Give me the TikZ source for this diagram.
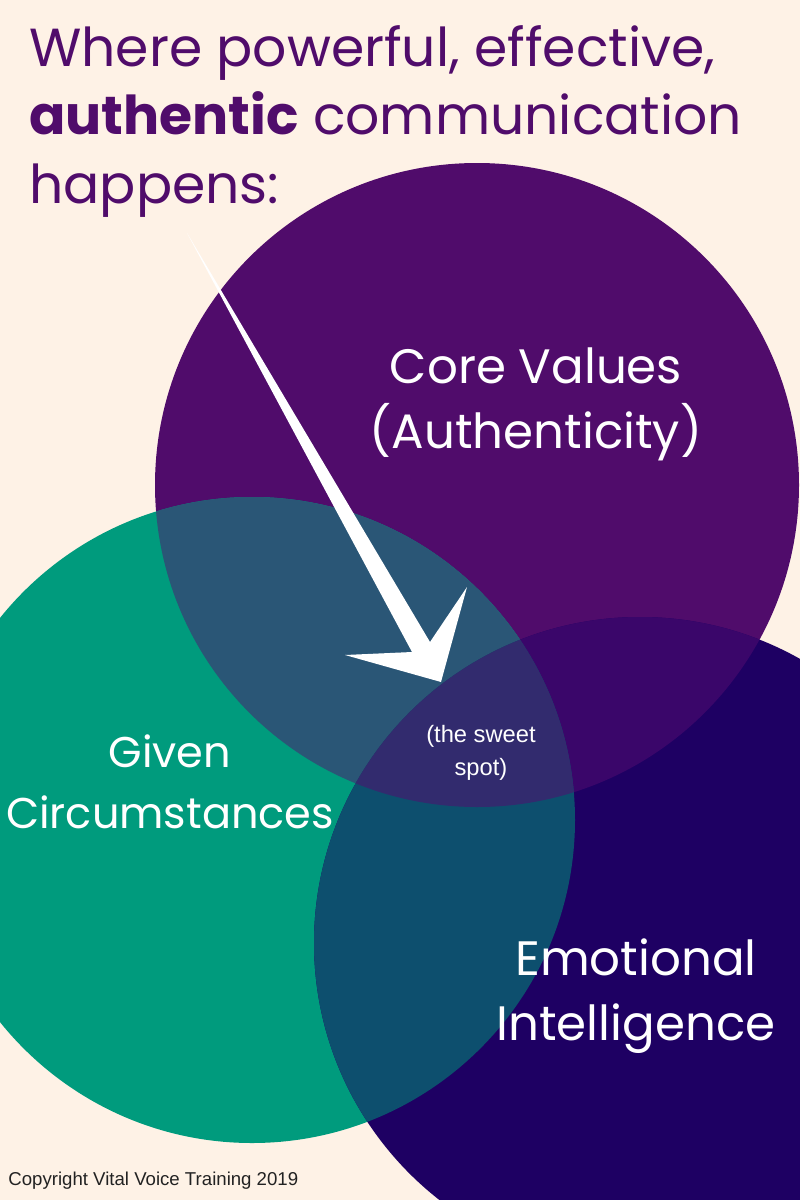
\documentclass[tikz,border=0pt]{standalone}
\usepackage{fontspec}
\setmainfont{Poppins}
\newfontfamily\arialfont{Liberation Sans}
\usetikzlibrary{positioning}
\definecolor{paper}{RGB}{254,242,230}
\definecolor{core}{RGB}{80,12,107}
\definecolor{given}{RGB}{0,155,125}
\definecolor{emo}{RGB}{30,0,99}
\definecolor{coregiven}{RGB}{42,86,118}
\definecolor{coreemo}{RGB}{58,6,106}
\definecolor{givenemo}{RGB}{13,79,110}
\definecolor{sweet}{RGB}{50,43,110}
\definecolor{note}{RGB}{34,34,34}

\begin{document}
\begin{tikzpicture}[x=0.02cm, y=-0.02cm,
  heading/.style={anchor=north west, inner sep=0pt, align=left, text=core,
              font=\fontsize{30.5}{39}\selectfont},
  circtext/.style={inner sep=0pt, align=center, text=white,
              font=\fontsize{27.5}{37}\selectfont},
  smalltext/.style={inner sep=0pt, align=center, text=white,
              font=\arialfont\fontsize{13.5}{19}\selectfont}]
\useasboundingbox (0,0) rectangle (800,1200);
\clip (0,0) rectangle (800,1200);
\fill[paper] (0,0) rectangle (800,1200);
\coordinate (corec)  at (477,485);
\coordinate (givenc) at (252,820);
\coordinate (emoc)   at (640,943);
\def\corering{(corec) circle (322)}
\def\givenring{(givenc) circle (323)}
\def\emoring{(emoc) circle (326)}
\fill[core] \corering;
\fill[given] \givenring;
\fill[emo] \emoring;
\begin{scope}
  \clip \corering;
  \fill[coregiven] \givenring;
  \fill[coreemo] \emoring;
\end{scope}
\begin{scope}
  \clip \givenring;
  \fill[givenemo] \emoring;
  \clip \corering;
  \fill[sweet] \emoring;
\end{scope}
\node[heading] (title) at (29,25) {Where powerful, effective,\\\textbf{authentic} communication\\happens:};
\coordinate (tail)   at (187,233);
\coordinate (shaftR) at (430,642);
\coordinate (barbR)  at (467,587);
\coordinate (tip)    at (441,682);
\coordinate (barbL)  at (345,655);
\coordinate (shaftL) at (412,652);
\fill[white] (tail) -- (shaftR) -- (barbR) -- (tip) -- (barbL) -- (shaftL) -- cycle;
\node[circtext] (corelbl)  at (536,404) {Core Values\\(Authenticity)};
\node[circtext, font=\fontsize{24.5}{35}\selectfont] (givenlbl) at (170,782) {Given\\Circumstances};
\node[circtext] (emolbl)   at (636,996) {Emotional\\Intelligence};
\node[smalltext] (sweetlbl) at (481,753) {(the sweet\\spot)};
\node[anchor=base west, inner sep=0pt, text=note,
      font=\arialfont\fontsize{10.6}{13}\selectfont] (copy) at (8,1185)
      {Copyright Vital Voice Training 2019};
\end{tikzpicture}
\end{document}
